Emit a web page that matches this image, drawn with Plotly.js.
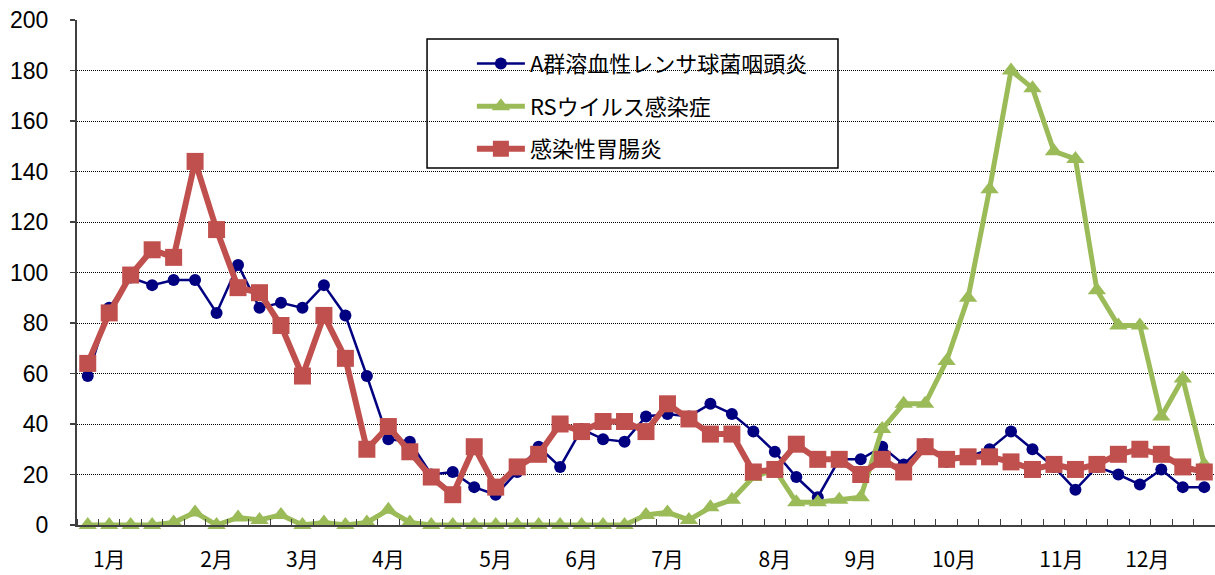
<!DOCTYPE html>
<html><head><meta charset="utf-8">
<script src="https://cdn.plot.ly/plotly-3.0.1.min.js"></script>
<style>body{margin:0;background:#fff}</style>
</head><body>
<div id="chart" style="width:1215px;height:575px"></div>
<script>
// week index (1..53)
const weeks = [1,2,3,4,5,6,7,8,9,10,11,12,13,14,15,16,17,18,19,20,21,22,23,24,25,26,27,28,29,30,31,32,33,34,35,36,37,38,39,40,41,42,43,44,45,46,47,48,49,50,51,52,53];

const seriesNames = ["A群溶血性レンサ球菌咽頭炎", "RSウイルス感染症", "感染性胃腸炎"];

const strepA = [59,86,98,95,97,97,84,103,86,88,86,95,83,59,34,33,20,21,15,12,
                21,31,23,38,34,33,43,44,43,48,44,37,29,19,11,26,26,31,24,32,
                25,27,30,37,30,23,14,23,20,16,22,15,15];

const rsv = [0,0,0,0,1,5,0,3,2,4,0,1,0,1,6,1,0,0,0,0,
             0,0,0,0,0,0,4,5,2,7,10,19,22,9,9,10,11,38,48,48,
             65,90,133,180,173,148,145,93,79,79,43,58,24];

const gastro = [64,84,99,109,106,144,117,94,92,79,59,83,66,30,39,29,19,12,31,15,
                23,28,40,37,41,41,37,48,42,36,36,21,22,32,26,26,20,26,21,31,
                26,27,27,25,22,24,22,24,28,30,28,23,21];

const monthLabels = ["1月","2月","3月","4月","5月","6月","7月","8月","9月","10月","11月","12月"];
const monthTickWeeks = [2, 7, 11, 15, 20, 24, 28, 33, 37, 41.35, 46.35, 50.35];

const yTicks = [0,20,40,60,80,100,120,140,160,180,200];

const traces = [
  {
    x: weeks, y: strepA, name: seriesNames[0], type: 'scatter', mode: 'lines+markers',
    line: {color: '#000080', width: 2.5},
    marker: {symbol: 'circle', size: 12, color: '#000080'},
    legendgroup: 'a', cliponaxis: false
  },
  {
    x: weeks, y: rsv, name: seriesNames[1], type: 'scatter', mode: 'lines+markers',
    line: {color: '#9BBB59', width: 5},
    marker: {symbol: 'triangle-up', size: 16, color: '#9BBB59'},
    legendgroup: 'b', cliponaxis: false
  },
  {
    x: weeks, y: gastro, name: seriesNames[2], type: 'scatter', mode: 'lines+markers',
    line: {color: '#C0504D', width: 6},
    marker: {symbol: 'square', size: 17, color: '#C0504D'},
    legendgroup: 'c', cliponaxis: false
  }
];

const layout = {
  width: 1215, height: 575,
  margin: {l: 77, r: 0, t: 20, b: 50},
  paper_bgcolor: '#fff', plot_bgcolor: '#fff',
  showlegend: true,
  legend: {
    x: 0.347, y: 0.955, xanchor: 'left', yanchor: 'top',
    font: {family: 'Noto Sans CJK JP', size: 22, color: '#000'},
    bgcolor: 'rgba(0,0,0,0)', borderwidth: 0,
    tracegroupgap: 11, itemwidth: 48, traceorder: 'grouped'
  },
  shapes: [{
    type: 'rect', xref: 'paper', yref: 'paper',
    x0: 0.3076, x1: 0.6687, y0: 0.7069, y1: 0.9624,
    line: {color: '#000', width: 1.5}, fillcolor: 'rgba(0,0,0,0)'
  }],
  xaxis: {
    type: 'linear', range: [0.5, 53.5], fixedrange: true,
    tickmode: 'array', tickvals: monthTickWeeks, ticktext: monthLabels,
    ticks: '', showgrid: false, zeroline: false,
    showline: true, linecolor: '#404040', linewidth: 2,
    tickfont: {family: 'Noto Sans CJK JP', size: 21, color: '#000'},
    ticklabelstandoff: 15,
    minor: {tickmode: 'linear', tick0: 0.5, dtick: 1, ticks: 'inside', ticklen: 6, tickwidth: 1, tickcolor: '#404040', showgrid: false}
  },
  yaxis: {
    range: [0, 200], fixedrange: true,
    tickmode: 'array', tickvals: yTicks,
    ticks: 'outside', ticklen: 5, tickwidth: 1.5, tickcolor: '#404040',
    showline: true, linecolor: '#404040', linewidth: 2,
    showgrid: true, gridcolor: '#000', gridwidth: 1, griddash: '1px,1px',
    zeroline: false,
    tickfont: {family: 'Liberation Sans', size: 23, color: '#000'},
    ticklabelstandoff: 17
  }
};

Plotly.newPlot('chart', traces, layout, {displayModeBar: false, staticPlot: true});
</script>
</body></html>
